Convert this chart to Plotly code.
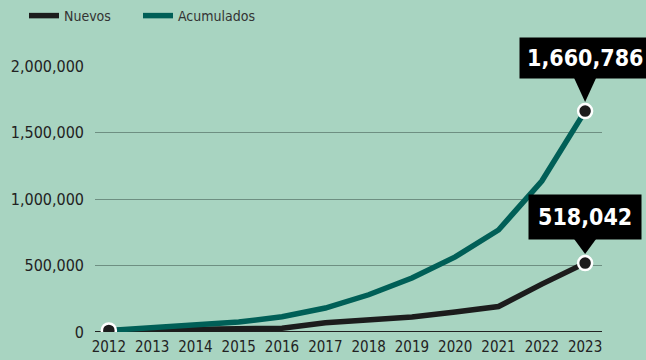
import plotly.graph_objects as go

years = [2012, 2013, 2014, 2015, 2016, 2017, 2018, 2019, 2020, 2021, 2022, 2023]
nuevos = [12000, 14000, 18000, 22000, 28000, 70000, 90000, 113000, 150000, 192000, 360000, 518042]
acumulados = [12000, 30000, 50000, 75000, 115000, 180000, 280000, 406000, 565000, 767000, 1135000, 1660786]
y_ticks = [0, 500000, 1000000, 1500000, 2000000]
y_tick_text = ["0", "500,000", "1,000,000", "1,500,000", "2,000,000"]

BG = "#a8d4c1"
TEAL = "#005f57"
BLACK = "#1c1c1c"
FONT = "DejaVu Sans Condensed, sans-serif"

fig = go.Figure()
fig.add_trace(go.Scatter(x=years, y=nuevos, name="Nuevos", mode="lines",
                         line=dict(color=BLACK, width=5.5), legend="legend"))
fig.add_trace(go.Scatter(x=years, y=acumulados, name="Acumulados", mode="lines",
                         line=dict(color=TEAL, width=5.5), legend="legend2"))
# end markers
fig.add_trace(go.Scatter(x=[years[0], years[-1]], y=[nuevos[0], nuevos[-1]], mode="markers",
                         showlegend=False, hoverinfo="skip",
                         marker=dict(size=14, color=BLACK, line=dict(color="white", width=2.5))))
fig.add_trace(go.Scatter(x=[years[-1]], y=[acumulados[-1]], mode="markers",
                         showlegend=False, hoverinfo="skip",
                         marker=dict(size=14, color=BLACK, line=dict(color="white", width=2.5))))

for val, shift, pad in [(acumulados[-1], 23, 7), (nuevos[-1], 14, 9)]:
    fig.add_annotation(x=years[-1], y=val, text=f"<b>{val:,}</b>", showarrow=False,
                       xanchor="center", yanchor="bottom", yshift=shift + 9,
                       bgcolor="black", borderpad=pad,
                       font=dict(family=FONT, size=23, color="white"))
    fig.add_shape(type="path", xref="x", yref="y", xsizemode="pixel", ysizemode="pixel",
                  xanchor=years[-1], yanchor=val,
                  path=f"M -11 {shift+10} L 11 {shift+10} L 0 9 Z",
                  fillcolor="black", line=dict(width=0), layer="above")

leg_common = dict(orientation="h", y=1.0, yref="container", xref="container",
                  xanchor="left", yanchor="top", bgcolor="rgba(0,0,0,0)",
                  font=dict(size=14, color="#333333"))
fig.update_layout(
    width=646, height=360,
    paper_bgcolor=BG, plot_bgcolor=BG,
    margin=dict(l=95, r=44, t=66, b=28),
    font=dict(family=FONT, size=16, color="#222222"),
    showlegend=True,
    legend=dict(x=24 / 646, **leg_common),
    legend2=dict(x=138 / 646, **leg_common),
    xaxis=dict(range=[2011.68, 2023.39], tickmode="array", tickvals=years,
               ticktext=[str(y) for y in years], showgrid=False, zeroline=False,
               showline=False, ticks="", ticklabelstandoff=4, automargin=False,
               tickfont=dict(size=15)),
    yaxis=dict(range=[0, 2000000], tickmode="array", tickvals=y_ticks, ticktext=y_tick_text,
               showgrid=True, gridcolor="#6e8f82", gridwidth=1.2, zeroline=False,
               showline=False, ticks="", ticklabelstandoff=10, automargin=False),
)
# baseline
fig.add_shape(type="line", xref="paper", yref="y", x0=0, x1=1, y0=0, y1=0,
              line=dict(color="#222222", width=2), layer="below")

fig.write_html("out.html")
